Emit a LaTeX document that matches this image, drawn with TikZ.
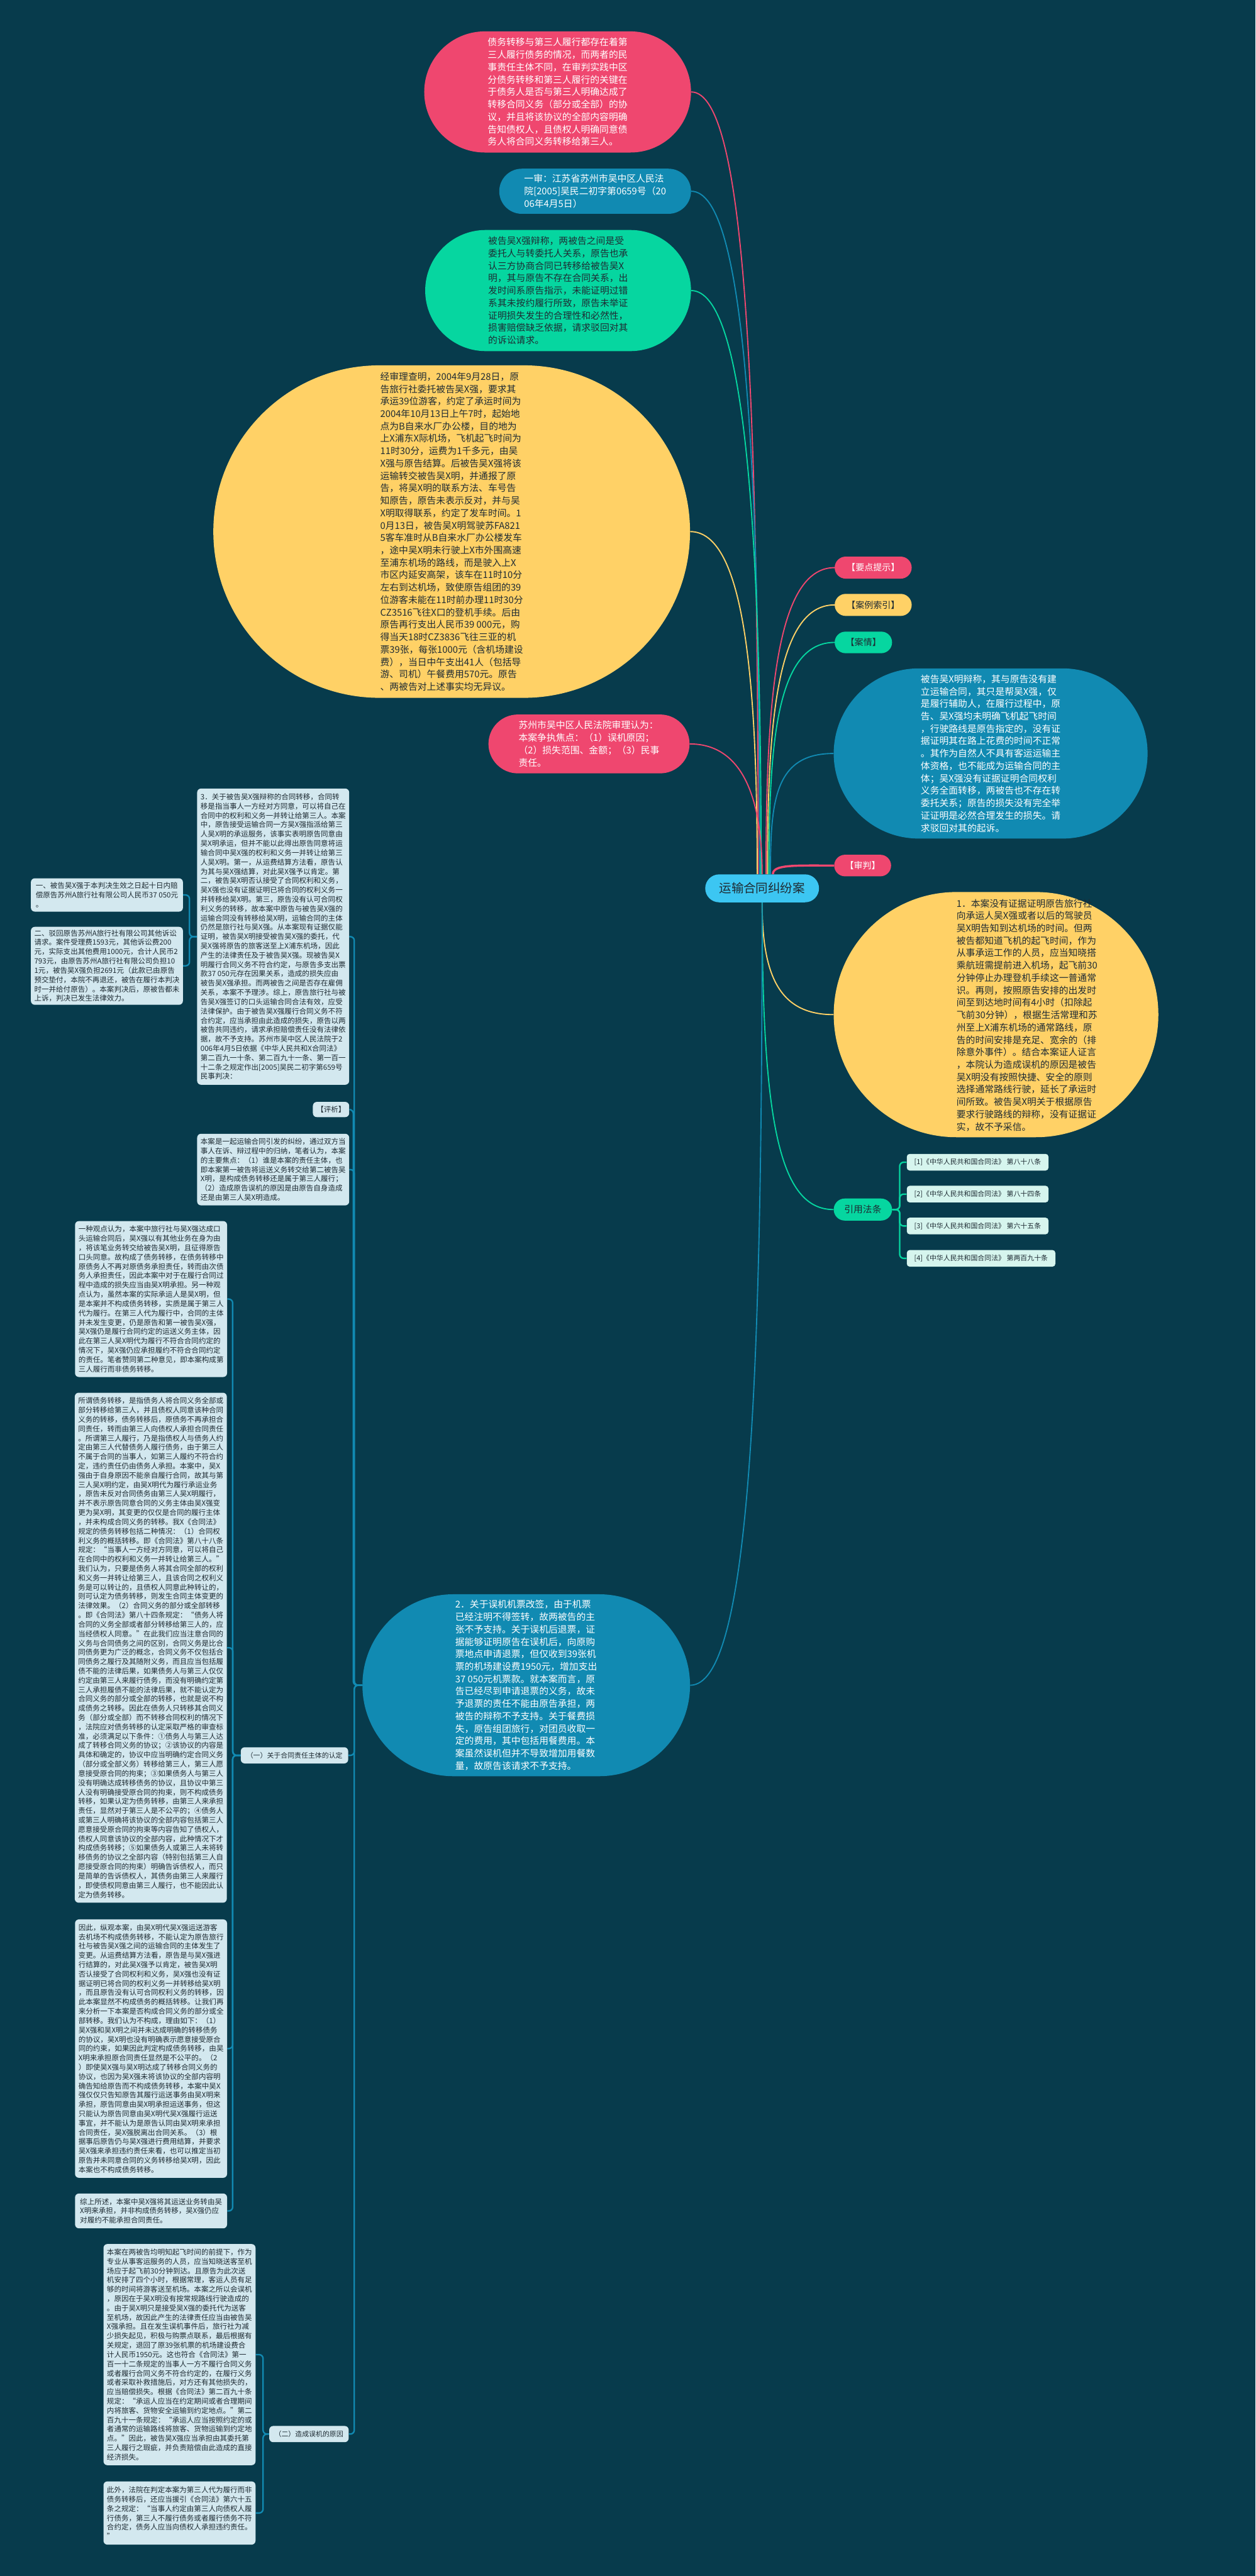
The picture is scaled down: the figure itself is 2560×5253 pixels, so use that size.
\documentclass[tikz,border=0pt]{standalone}
\usepackage{fontspec}
\setmainfont{Noto Sans CJK SC}
\usetikzlibrary{shapes.misc,calc}
\definecolor{bgc}{HTML}{073B4C}
\definecolor{cpink}{HTML}{EF476F}
\definecolor{cyel}{HTML}{FFD166}
\definecolor{cgreen}{HTML}{06D6A0}
\definecolor{cblue}{HTML}{118AB2}
\definecolor{ccyan}{HTML}{3CC6F2}
\definecolor{clight}{HTML}{D3E8EF}
\definecolor{cmint}{HTML}{D6F5EE}
\definecolor{cdark}{HTML}{1E2B33}
\pgfdeclarelayer{bg}
\pgfsetlayers{bg,main}
\newcommand\fszA{\fontsize{9.5pt}{12.65pt}\selectfont}
\newcommand\fszB{\fontsize{7.4pt}{9.5pt}\selectfont}
\newcommand\fszR{\fontsize{12.5pt}{15pt}\selectfont}
\newcommand\fszL{\fontsize{9pt}{11pt}\selectfont}
\newcommand\fszS{\fontsize{7pt}{9pt}\selectfont}
\begin{document}
\begin{tikzpicture}[x=0.5pt,y=-0.5pt,
 wh/.style 2 args={minimum width=#1*0.5pt, minimum height=#2*0.5pt},
 bubblebox/.style={rounded rectangle, inner sep=0pt, align=left, font=\fszA},
 tagbox/.style={rounded rectangle, inner sep=0pt, align=center, font=\fszL},
 cardbox/.style={rectangle, rounded corners=4pt, fill=clight, inner sep=0pt, align=left, font=\fszB, text=cdark},
 lawbox/.style={rectangle, rounded corners=3pt, fill=cmint, inner sep=0pt, align=left, font=\fszS, text=cdark},
 linkline/.style={line width=1.2pt},
 elbowline/.style={line width=1.5pt, cblue, rounded corners=4pt},
]
\useasboundingbox (0,0) rectangle (2560,5253);

% ---------- top colored nodes ----------
\node[bubblebox, fill=cpink, text=white, wh={544}{247}] (p1) at (1137,187.5) {债务转移与第三人履行都存在着第\\
三人履行债务的情况，而两者的民\\
事责任主体不同，在审判实践中区\\
分债务转移和第三人履行的关键在\\
于债务人是否与第三人明确达成了\\
转移合同义务（部分或全部）的协\\
议，并且将该协议的全部内容明确\\
告知债权人，且债权人明确同意债\\
务人将合同义务转移给第三人。};

\node[bubblebox, fill=cblue, text=white, wh={391}{92}] (b1) at (1213.5,390) {一审：江苏省苏州市吴中区人民法\\
院[2005]吴民二初字第0659号（20\\
06年4月5日）};

\node[bubblebox, fill=cgreen, text=cdark, wh={542}{247}] (g1) at (1138,592.5) {被告吴X强辩称，两被告之间是受\\
委托人与转委托人关系，原告也承\\
认三方协商合同已转移给被告吴X\\
明，其与原告不存在合同关系，出\\
发时间系原告指示，未能证明过错\\
系其未按约履行所致，原告未举证\\
证明损失发生的合理性和必然性，\\
损害赔偿缺乏依据，请求驳回对其\\
的诉讼请求。};

\node[bubblebox, fill=cyel, text=cdark, wh={972}{678}] (y1) at (921,1084) {经审理查明，2004年9月28日，原\\
告旅行社委托被告吴X强，要求其\\
承运39位游客，约定了承运时间为\\
2004年10月13日上午7时，起始地\\
点为B自来水厂办公楼，目的地为\\
上X浦东X际机场，飞机起飞时间为\\
11时30分，运费为1千多元，由吴\\
X强与原告结算。后被告吴X强将该\\
运输转交被告吴X明，并通报了原\\
告，将吴X明的联系方法、车号告\\
知原告，原告未表示反对，并与吴\\
X明取得联系，约定了发车时间。1\\
0月13日，被告吴X明驾驶苏FA821\\
5客车准时从B自来水厂办公楼发车\\
，途中吴X明未行驶上X市外围高速\\
至浦东机场的路线，而是驶入上X\\
市区内延安高架，该车在11时10分\\
左右到达机场，致使原告组团的39\\
位游客未能在11时前办理11时30分\\
CZ3516飞往X口的登机手续。后由\\
原告再行支出人民币39 000元，购\\
得当天18时CZ3836飞往三亚的机\\
票39张，每张1000元（含机场建设\\
费），当日中午支出41人（包括导\\
游、司机）午餐费用570元。原告\\
、两被告对上述事实均无异议。};

\node[bubblebox, fill=cpink, text=white, wh={410}{120}] (p2) at (1201,1517) {苏州市吴中区人民法院审理认为：\\
本案争执焦点：（1）误机原因；\\
（2）损失范围、金额；（3）民事\\
责任。};

\node[tagbox, fill=ccyan, text=cdark, font=\fszR, wh={232}{57}] (root) at (1554,1811.5) {运输合同纠纷案};

\node[tagbox, fill=cpink, text=white, wh={157}{45}] (ydts) at (1780.5,1157.5) {【要点提示】};
\node[tagbox, fill=cyel, text=cdark, wh={157}{45}] (alsy) at (1780.5,1233.5) {【案例索引】};
\node[tagbox, fill=cgreen, text=cdark, wh={117}{44}] (aq) at (1760.5,1310) {【案情】};
\node[tagbox, fill=cpink, text=white, wh={116}{44}] (shen) at (1759,1765) {【审判】};

\node[bubblebox, fill=cblue, text=white, wh={640}{347}] (b2) at (2020,1536.5) {被告吴X明辩称，其与原告没有建\\
立运输合同，其只是帮吴X强，仅\\
是履行辅助人，在履行过程中，原\\
告、吴X强均未明确飞机起飞时间\\
，行驶路线是原告指定的，没有证\\
据证明其在路上花费的时间不正常\\
。其作为自然人不具有客运运输主\\
体资格，也不能成为运输合同的主\\
体；吴X强没有证据证明合同权利\\
义务全面转移，两被告也不存在转\\
委托关系；原告的损失没有完全举\\
证证明是必然合理发生的损失。请\\
求驳回对其的起诉。};

\node[bubblebox, fill=cyel, wh={662}{500}] (y2) at (2031,2069) {};
\node[font=\fszA, align=left, text=cdark, inner sep=0pt] (y2t) at (2094,2070) {1．本案没有证据证明原告旅行社\\
向承运人吴X强或者以后的驾驶员\\
吴X明告知到达机场的时间。但两\\
被告都知道飞机的起飞时间，作为\\
从事承运工作的人员，应当知晓搭\\
乘航班需提前进入机场，起飞前30\\
分钟停止办理登机手续这一普通常\\
识。再则，按照原告安排的出发时\\
间至到达地时间有4小时（扣除起\\
飞前30分钟），根据生活常理和苏\\
州至上X浦东机场的通常路线，原\\
告的时间安排是充足、宽余的（排\\
除意外事件）。结合本案证人证言\\
，本院认为造成误机的原因是被告\\
吴X明没有按照快捷、安全的原则\\
选择通常路线行驶，延长了承运时\\
间所致。被告吴X明关于根据原告\\
要求行驶路线的辩称，没有证据证\\
实，故不予采信。};

\node[tagbox, fill=cgreen, text=cdark, font=\fszA, wh={119}{45}] (yyft) at (1759.5,2466.5) {引用法条};
\node[lawbox, wh={289}{34}] (l1) at (1993.5,2370) {[1]《中华人民共和国合同法》 第八十八条};
\node[lawbox, wh={289}{34}] (l2) at (1993.5,2435) {[2]《中华人民共和国合同法》 第八十四条};
\node[lawbox, wh={289}{34}] (l3) at (1993.5,2500) {[3]《中华人民共和国合同法》 第六十五条};
\node[lawbox, wh={303}{34}] (l4) at (2000.5,2566) {[4]《中华人民共和国合同法》 第两百九十条};

\node[bubblebox, fill=cblue, text=white, wh={668}{371}] (b3) at (1073,3436.5) {2．关于误机机票改签，由于机票\\
已经注明不得签转，故两被告的主\\
张不予支持。关于误机后退票，证\\
据能够证明原告在误机后，向原购\\
票地点申请退票，但仅收到39张机\\
票的机场建设费1950元，增加支出\\
37 050元机票款。就本案而言，原\\
告已经尽到申请退票的义务，故未\\
予退票的责任不能由原告承担，两\\
被告的辩称不予支持。关于餐费损\\
失，原告组团旅行，对团员收取一\\
定的费用，其中包括用餐费用。本\\
案虽然误机但并不导致增加用餐数\\
量，故原告该请求不予支持。};

% ---------- left cards ----------
\node[cardbox, wh={310}{604}] (c3) at (557,1910) {3．关于被告吴X强辩称的合同转移，合同转\\
移是指当事人一方经对方同意，可以将自己在\\
合同中的权利和义务一并转让给第三人。本案\\
中，原告接受运输合同一方吴X强指派给第三\\
人吴X明的承运服务，该事实表明原告同意由\\
吴X明承运，但并不能以此得出原告同意将运\\
输合同中吴X强的权利和义务一并转让给第三\\
人吴X明。第一，从运费结算方法看，原告认\\
为其与吴X强结算，对此吴X强予以肯定。第\\
二，被告吴X明否认接受了合同权利和义务，\\
吴X强也没有证据证明已将合同的权利义务一\\
并转移给吴X明。第三，原告没有认可合同权\\
利义务的转移，故本案中原告与被告吴X强的\\
运输合同没有转移给吴X明，运输合同的主体\\
仍然是旅行社与吴X强。从本案现有证据仅能\\
证明，被告吴X明接受被告吴X强的委托，代\\
吴X强将原告的旅客送至上X浦东机场，因此\\
产生的法律责任及于被告吴X强。现被告吴X\\
明履行合同义务不符合约定，与原告多支出票\\
款37 050元存在因果关系，造成的损失应由\\
被告吴X强承担。而两被告之间是否存在雇佣\\
关系，本案不予理涉。综上，原告旅行社与被\\
告吴X强签订的口头运输合同合法有效，应受\\
法律保护。由于被告吴X强履行合同义务不符\\
合约定，应当承担由此造成的损失，原告以两\\
被告共同违约，请求承担赔偿责任没有法律依\\
据，故不予支持。苏州市吴中区人民法院于2\\
006年4月5日依据《中华人民共和X合同法》\\
第二百九一十条、第二百九十一条、第一百一\\
十二条之规定作出[2005]吴民二初字第659号\\
民事判决：};

\node[cardbox, wh={310}{68}] (cone) at (218,1825) {一、被告吴X强于本判决生效之日起十日内赔\\
偿原告苏州A旅行社有限公司人民币37 050元\\
。};

\node[cardbox, wh={310}{159}] (ctwo) at (218,1969.5) {二、驳回原告苏州A旅行社有限公司其他诉讼\\
请求。案件受理费1593元，其他诉讼费200\\
元，实际支出其他费用1000元，合计人民币2\\
793元，由原告苏州A旅行社有限公司负担10\\
1元，被告吴X强负担2691元（此款已由原告\\
预交垫付，本院不再退还，被告在履行本判决\\
时一并给付原告）。本案判决后，原被告都未\\
上诉，判决已发生法律效力。};

\node[cardbox, wh={74}{31}, align=center] (px) at (675,2262.5) {【评析】};

\node[cardbox, wh={310}{146}] (ba) at (557,2385) {本案是一起运输合同引发的纠纷，通过双方当\\
事人在诉、辩过程中的归纳，笔者认为，本案\\
的主要焦点：（1）谁是本案的责任主体，也\\
即本案第一被告将运送义务转交给第二被告吴\\
X明，是构成债务转移还是属于第三人履行；\\
（2）造成原告误机的原因是由原告自身造成\\
还是由第三人吴X明造成。};

\node[cardbox, wh={219}{33}, font=\fszS, align=center] (yi) at (600.5,3579.5) {（一）关于合同责任主体的认定};

\node[cardbox, wh={310}{318}] (cf) at (308,2649) {一种观点认为，本案中旅行社与吴X强达成口\\
头运输合同后，吴X强以有其他业务在身为由\\
，将该笔业务转交给被告吴X明，且征得原告\\
口头同意。故构成了债务转移，在债务转移中\\
原债务人不再对原债务承担责任，转而由次债\\
务人承担责任，因此本案中对于在履行合同过\\
程中造成的损失应当由吴X明承担。另一种观\\
点认为，虽然本案的实际承运人是吴X明，但\\
是本案并不构成债务转移，实质是属于第三人\\
代为履行。在第三人代为履行中，合同的主体\\
并未发生变更，仍是原告和第一被告吴X强，\\
吴X强仍是履行合同约定的运送义务主体，因\\
此在第三人吴X明代为履行不符合合同约定的\\
情况下，吴X强仍应承担履约不符合合同约定\\
的责任。笔者赞同第二种意见，即本案构成第\\
三人履行而非债务转移。};

\node[cardbox, wh={310}{1040}] (cg) at (307.5,3360) {所谓债务转移，是指债务人将合同义务全部或\\
部分转移给第三人，并且债权人同意该种合同\\
义务的转移，债务转移后，原债务不再承担合\\
同责任，转而由第三人向债权人承担合同责任\\
。所谓第三人履行，乃是指债权人与债务人约\\
定由第三人代替债务人履行债务，由于第三人\\
不属于合同的当事人，如第三人履约不符合约\\
定，违约责任仍由债务人承担。本案中，吴X\\
强由于自身原因不能亲自履行合同，故其与第\\
三人吴X明约定，由吴X明代为履行承运业务\\
，原告未反对合同债务由第三人吴X明履行，\\
并不表示原告同意合同的义务主体由吴X强变\\
更为吴X明，其变更的仅仅是合同的履行主体\\
，并未构成合同义务的转移。我X《合同法》\\
规定的债务转移包括二种情况：（1）合同权\\
利义务的概括转移。即《合同法》第八十八条\\
规定：“当事人一方经对方同意，可以将自己\\
在合同中的权利和义务一并转让给第三人。”\\
我们认为，只要是债务人将其合同全部的权利\\
和义务一并转让给第三人，且该合同之权利义\\
务是可以转让的，且债权人同意此种转让的，\\
则可认定为债务转移，则发生合同主体变更的\\
法律效果。（2）合同义务的部分或全部转移\\
。即《合同法》第八十四条规定：“债务人将\\
合同的义务全部或者部分转移给第三人的，应\\
当经债权人同意。”在此我们应当注意合同的\\
义务与合同债务之间的区别，合同义务是比合\\
同债务更为广泛的概念，合同义务不仅包括合\\
同债务之履行及其随附义务，而且应当包括履\\
债不能的法律后果，如果债务人与第三人仅仅\\
约定由第三人来履行债务，而没有明确约定第\\
三人承担履债不能的法律后果，就不能认定为\\
合同义务的部分或全部的转移，也就是说不构\\
成债务之转移。因此在债务人只转移其合同义\\
务（部分或全部）而不转移合同权利的情况下\\
，法院应对债务转移的认定采取严格的审查标\\
准，必须满足以下条件：①债务人与第三人达\\
成了转移合同义务的协议；②该协议的内容是\\
具体和确定的，协议中应当明确约定合同义务\\
（部分或全部义务）转移给第三人，第三人愿\\
意接受原合同的拘束；③如果债务人与第三人\\
没有明确达成转移债务的协议，且协议中第三\\
人没有明确接受原合同的拘束，则不构成债务\\
转移，如果认定为债务转移，由第三人来承担\\
责任，显然对于第三人是不公平的；④债务人\\
或第三人明确将该协议的全部内容包括第三人\\
愿意接受原合同的拘束等内容告知了债权人，\\
债权人同意该协议的全部内容，此种情况下才\\
构成债务转移；⑤如果债务人或第三人未将转\\
移债务的协议之全部内容（特别包括第三人自\\
愿接受原合同的拘束）明确告诉债权人，而只\\
是简单的告诉债权人，其债务由第三人来履行\\
，即使债权同意由第三人履行，也不能因此认\\
定为债务转移。};

\node[cardbox, wh={310}{527}] (ch) at (308,4177.5) {因此，纵观本案，由吴X明代吴X强运送游客\\
去机场不构成债务转移，不能认定为原告旅行\\
社与被告吴X强之间的运输合同的主体发生了\\
变更。从运费结算方法看，原告是与吴X强进\\
行结算的，对此吴X强予以肯定，被告吴X明\\
否认接受了合同权利和义务，吴X强也没有证\\
据证明已将合同的权利义务一并转移给吴X明\\
，而且原告没有认可合同权利义务的转移，因\\
此本案显然不构成债务的概括转移。让我们再\\
来分析一下本案是否构成合同义务的部分或全\\
部转移。我们认为不构成，理由如下：（1）\\
吴X强和吴X明之间并未达成明确的转移债务\\
的协议，吴X明也没有明确表示愿意接受原合\\
同的约束，如果因此判定构成债务转移，由吴\\
X明来承担原合同责任显然是不公平的。（2\\
）即使吴X强与吴X明达成了转移合同义务的\\
协议，也因为吴X强未将该协议的全部内容明\\
确告知给原告而不构成债务转移，本案中吴X\\
强仅仅只告知原告其履行运送事务由吴X明来\\
承担，原告同意由吴X明承担运送事务，但这\\
只能认为原告同意由吴X明代吴X强履行运送\\
事宜，并不能认为是原告认同由吴X明来承担\\
合同责任，吴X强脱离出合同关系。（3）根\\
据事后原告仍与吴X强进行费用结算，并要求\\
吴X强来承担违约责任来看，也可以推定当初\\
原告并未同意合同的义务转移给吴X明，因此\\
本案也不构成债务转移。};

\node[cardbox, wh={310}{71}] (ci) at (308,4508.5) {综上所述，本案中吴X强将其运送业务转由吴\\
X明来承担，并非构成债务转移，吴X强仍应\\
对履约不能承担合同责任。};

\node[cardbox, wh={162}{33}, font=\fszS, align=center] (er) at (630,4963.5) {（二）造成误机的原因};

\node[cardbox, wh={310}{451}] (ck) at (366,4801.5) {本案在两被告均明知起飞时间的前提下，作为\\
专业从事客运服务的人员，应当知晓送客至机\\
场应于起飞前30分钟到达。且原告为此次送\\
机安排了四个小时，根据常理，客运人员有足\\
够的时间将游客送至机场。本案之所以会误机\\
，原因在于吴X明没有按常规路线行驶造成的\\
。由于吴X明只是接受吴X强的委托代为送客\\
至机场，故因此产生的法律责任应当由被告吴\\
X强承担。且在发生误机事件后，旅行社为减\\
少损失起见，积极与购票点联系，最后根据有\\
关规定，退回了原39张机票的机场建设费合\\
计人民币1950元。这也符合《合同法》第一\\
百一十二条规定的当事人一方不履行合同义务\\
或者履行合同义务不符合约定的，在履行义务\\
或者采取补救措施后，对方还有其他损失的，\\
应当赔偿损失。根据《合同法》第二百九十条\\
规定：“承运人应当在约定期间或者合理期间\\
内将旅客、货物安全运输到约定地点。”第二\\
百九十一条规定：“承运人应当按照约定的或\\
者通常的运输路线将旅客、货物运输到约定地\\
点。”因此，被告吴X强应当承担由其委托第\\
三人履行之瑕疵，并负责赔偿由此造成的直接\\
经济损失。};

\node[cardbox, wh={310}{129}] (cl) at (366,5124.5) {此外，法院在判定本案为第三人代为履行而非\\
债务转移后，还应当援引《合同法》第六十五\\
条之规定：“当事人约定由第三人向债权人履\\
行债务，第三人不履行债务或者履行债务不符\\
合约定，债务人应当向债权人承担违约责任。\\
”};

% ---------- connectors ----------
\begin{pgfonlayer}{bg}
\fill[bgc] (0,0) rectangle (2560,5253);
\draw[linkline, cpink] (p1.east) .. controls +(110,0) and +(0,-1000) .. ($(root.north)+(-8,0)$);
\draw[linkline, cblue] (b1.east) .. controls +(110,0) and +(0,-850) .. ($(root.north)+(-5,0)$);
\draw[linkline, cgreen] (g1.east) .. controls +(110,0) and +(0,-700) .. ($(root.north)+(-2,0)$);
\draw[linkline, cyel] (y1.east) .. controls +(110,0) and +(0,-400) .. ($(root.north)+(-10,0)$);
\draw[linkline, cpink] (p2.east) .. controls +(100,0) and +(0,-170) .. ($(root.north)+(0,0)$);
\draw[linkline, cpink] (ydts.west) .. controls +(-120,0) and +(0,-350) .. ($(root.north)+(8,0)$);
\draw[linkline, cyel] (alsy.west) .. controls +(-120,0) and +(0,-300) .. ($(root.north)+(11,0)$);
\draw[linkline, cgreen] (aq.west) .. controls +(-120,0) and +(0,-260) .. ($(root.north)+(14,0)$);
\draw[linkline, cblue] (b2.west) .. controls +(-120,0) and +(0,-150) .. ($(root.north)+(17,0)$);
\draw[line width=2.2pt, cpink] (shen.west) .. controls +(-80,0) and +(0,-20) .. ($(root.north)+(22,0)$);
\draw[linkline, cyel] (y2.west) .. controls +(-110,0) and +(0,150) .. (root.south);
\draw[linkline, cgreen] (yyft.west) .. controls +(-110,0) and +(0,450) .. (root.south);
\draw[linkline, cblue] (b3.east) .. controls +(120,0) and +(0,1000) .. (root.south);

\draw[elbowline, cgreen] (l1.west) -- ++(-14,0) |- (yyft.east);
\draw[elbowline, cgreen] (l2.west) -- ++(-14,0) |- (yyft.east);
\draw[elbowline, cgreen] (l3.west) -- ++(-14,0) |- (yyft.east);
\draw[elbowline, cgreen] (l4.west) -- ++(-14,0) |- (yyft.east);

\draw[elbowline] (c3.east) -- ++(10,0) |- (b3.west);
\draw[elbowline] (px.east) -- ++(8,0) |- (b3.west);
\draw[elbowline] (ba.east) -- ++(10,0) |- (b3.west);
\draw[elbowline] (yi.east) -- ++(12,0) |- (b3.west);
\draw[elbowline] (er.east) -- ++(11,0) |- (b3.west);

\draw[elbowline] (cone.east) -- ++(13,0) |- (c3.west);
\draw[elbowline] (ctwo.east) -- ++(13,0) |- (c3.west);

\draw[elbowline] (cf.east) -- ++(11,0) |- (yi.west);
\draw[elbowline] (cg.east) -- ++(12,0) |- (yi.west);
\draw[elbowline] (ch.east) -- ++(11,0) |- (yi.west);
\draw[elbowline] (ci.east) -- ++(11,0) |- (yi.west);

\draw[elbowline] (ck.east) -- ++(15,0) |- (er.west);
\draw[elbowline] (cl.east) -- ++(15,0) |- (er.west);
\end{pgfonlayer}
\end{tikzpicture}
\end{document}
